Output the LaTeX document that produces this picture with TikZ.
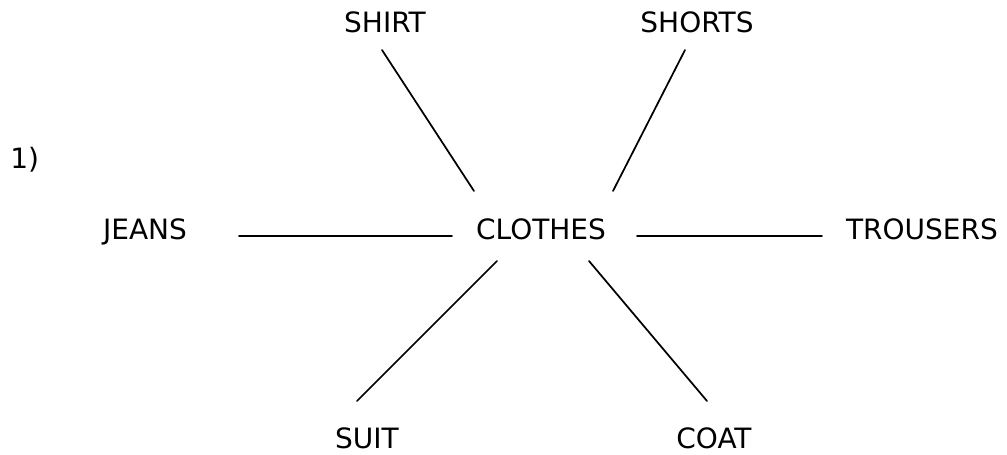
\documentclass[tikz,border=0pt]{standalone}
\usepackage{fontspec}
\setmainfont{DejaVu Sans}
\begin{document}
\begin{tikzpicture}[x=0.75pt,y=-0.75pt,
  lbl/.style={anchor=base,inner sep=0pt,font=\fontsize{21}{25}\selectfont},
  conn/.style={line width=1.3pt,line cap=round}]
\useasboundingbox (0,0) rectangle (1007,454);
\node[lbl,anchor=base west] (num) at (10,168) {1)};
\node[lbl] (shirt) at (385,32) {SHIRT};
\node[lbl] (shorts) at (697,32) {SHORTS};
\node[lbl] (jeans) at (145,239) {JEANS};
\node[lbl] (clothes) at (541,239) {CLOTHES};
\node[lbl] (trousers) at (922,239) {TROUSERS};
\node[lbl] (suit) at (367,448) {SUIT};
\node[lbl] (coat) at (714,448) {COAT};
% connector end points
\coordinate (shirtE) at (382,50);
\coordinate (cNW) at (474,191);
\coordinate (shortsE) at (685,50);
\coordinate (cNE) at (613,191);
\coordinate (jeansE) at (239,236);
\coordinate (cW) at (452,236);
\coordinate (cE) at (637,236);
\coordinate (trousersE) at (822,236);
\coordinate (cSW) at (497,261);
\coordinate (suitE) at (357,401);
\coordinate (cSE) at (589,261);
\coordinate (coatE) at (707,401);
\draw[conn] (shirtE) -- (cNW);
\draw[conn] (shortsE) -- (cNE);
\draw[conn] (jeansE) -- (cW);
\draw[conn] (cE) -- (trousersE);
\draw[conn] (cSW) -- (suitE);
\draw[conn] (cSE) -- (coatE);
\end{tikzpicture}
\end{document}
